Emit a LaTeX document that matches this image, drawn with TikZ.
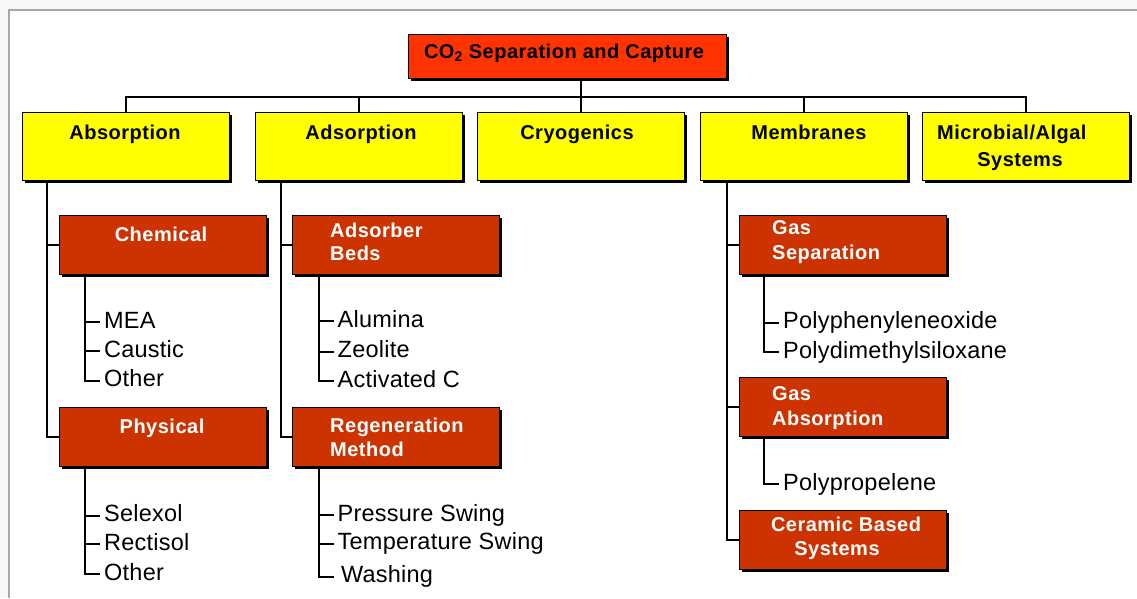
\documentclass[tikz,border=0pt]{standalone}
\usepackage{fontspec}
\setmainfont{Liberation Sans}
\newfontfamily\boxfont[LetterSpace=2.5]{Liberation Sans}
\newfontfamily\itemfont[LetterSpace=1]{Liberation Sans}
\usetikzlibrary{shadows}
\definecolor{rootred}{HTML}{FF3300}
\definecolor{subred}{HTML}{CC3300}
\definecolor{yboxc}{HTML}{FFFF00}
\definecolor{pagebg}{HTML}{F7F7F7}
\definecolor{frameline}{HTML}{A8A8A8}
\begin{document}
\begin{tikzpicture}[x=1pt,y=-1pt,
 boxbase/.style={draw=black, line width=1pt, inner sep=0pt,
   general shadow={fill=black, shadow xshift=2.8pt, shadow yshift=-2.8pt}},
 rootbox/.style={boxbase, fill=rootred, minimum width=318pt, minimum height=43.5pt},
 topbox/.style={boxbase, fill=yboxc, minimum width=207pt, minimum height=68pt},
 subbox/.style={boxbase, fill=subred, minimum width=207pt, minimum height=59pt},
 boxtxt/.style={font=\boxfont\fontsize{20}{24}\selectfont\bfseries, inner sep=0pt},
 subtxt/.style={boxtxt, text=white},
 item/.style={font=\itemfont\fontsize{23.5}{28}\selectfont, inner xsep=4pt, inner ysep=0pt,
   text height=12pt, text depth=0pt, anchor=base west},
 conn/.style={draw=black, line width=2pt}]
\useasboundingbox (0,0) rectangle (1137,598);
% page
\fill[pagebg] (0,0) rectangle (1137,598);
\fill[white] (9,10) rectangle (1137,598);
\draw[frameline, line width=1.2pt] (9,598) -- (9,10) -- (1137,10);

% boxes
\node[rootbox] (root) at (567,56.3) {};
\node[topbox] (absorp) at (126,146.5) {};
\node[topbox] (adsorp) at (358.5,146.5) {};
\node[topbox] (cryo) at (581,146.5) {};
\node[topbox] (memb) at (803.5,146.5) {};
\node[topbox] (micro) at (1026,146.5) {};

\node[subbox] (chem) at (163,244.5) {};
\node[subbox] (phys) at (163,437) {};
\node[subbox] (beds) at (395.5,244.5) {};
\node[subbox] (regen) at (395.5,437) {};
\node[subbox] (gsep) at (842.5,244.5) {};
\node[subbox] (gabs) at (842.5,407) {};
\node[subbox] (ceram) at (842.5,539.5) {};

% box texts
\node[boxtxt, anchor=base] (rootT) at (564,58) {CO\textsubscript{2} Separation and Capture};
\node[boxtxt, anchor=base] (absorpT) at (125,139) {Absorption};
\node[boxtxt, anchor=base] (adsorpT) at (361,139) {Adsorption};
\node[boxtxt, anchor=base] (cryoT) at (577,139) {Cryogenics};
\node[boxtxt, anchor=base] (membT) at (809,139) {Membranes};
\node[boxtxt, anchor=base west] (microT) at (937,139.3) {Microbial/Algal};
\node[boxtxt, anchor=base] (microT2) at (1020,166.7) {Systems};

\node[subtxt, anchor=base] (chemT) at (161,241) {Chemical};
\node[subtxt, anchor=base] (physT) at (162,433) {Physical};
\node[subtxt, anchor=base west] (bedsT) at (330,237) {Adsorber};
\node[subtxt, anchor=base west] (bedsT2) at (330,260) {Beds};
\node[subtxt, anchor=base west] (regenT) at (330,432) {Regeneration};
\node[subtxt, anchor=base west] (regenT2) at (330,456.5) {Method};
\node[subtxt, anchor=base west] (gsepT) at (772,234.3) {Gas};
\node[subtxt, anchor=base west] (gsepT2) at (772,259.3) {Separation};
\node[subtxt, anchor=base west] (gabsT) at (772,400.7) {Gas};
\node[subtxt, anchor=base west] (gabsT2) at (772,425.7) {Absorption};
\node[subtxt, anchor=base] (ceramT) at (846,531.7) {Ceramic Based};
\node[subtxt, anchor=base] (ceramT2) at (837,555) {Systems};

% items
\node[item] (mea) at (100,328.3) {MEA};
\node[item] (caus) at (100,357) {Caustic};
\node[item] (oth1) at (100,386.7) {Other};
\node[item] (selex) at (100,521.7) {Selexol};
\node[item] (rect) at (100,550) {Rectisol};
\node[item] (oth2) at (100,580) {Other};
\node[item] (alum) at (333.5,327.3) {Alumina};
\node[item] (zeol) at (333.5,357.8) {Zeolite};
\node[item] (actc) at (333.5,387.3) {Activated C};
\node[item] (press) at (333.5,521) {Pressure Swing};
\node[item] (temp) at (333.5,549.8) {Temperature Swing};
\node[item] (wash) at (333.5,582.7) {\hspace{3.3pt}Washing};
\node[item] (ppo) at (779,328.5) {Polyphenyleneoxide};
\node[item] (pdms) at (779,358) {Polydimethylsiloxane};
\node[item] (ppl) at (779,490.3) {Polypropelene};

% top level connectors
\coordinate (bus) at (581,96.7);
\draw[conn] (root.south -| bus) -- (bus);
\draw[conn] (absorp.north) |- (bus) -| (micro.north);
\draw[conn] (adsorp.north) -- (adsorp.north |- bus);
\draw[conn] (cryo.north) -- (cryo.north |- bus);
\draw[conn] (memb.north) -- (memb.north |- bus);

% trunks to sub boxes
\coordinate (absTr) at (47,180.5);
\draw[conn] (absTr) |- (phys.west);
\draw[conn] (absTr |- chem.west) -- (chem.west);
\coordinate (adsTr) at (281,180.5);
\draw[conn] (adsTr) |- (regen.west);
\draw[conn] (adsTr |- beds.west) -- (beds.west);
\coordinate (memTr) at (726.5,180.5);
\draw[conn] (memTr) |- (ceram.west);
\draw[conn] (memTr |- gsep.west) -- (gsep.west);
\draw[conn] (memTr |- gabs.west) -- (gabs.west);

% item connectors
\coordinate (chemTr) at (84.5,274);
\draw[conn] (chemTr) |- (oth1.west) (chemTr |- mea.west) -- (mea.west) (chemTr |- caus.west) -- (caus.west);
\coordinate (physTr) at (84.5,466.5);
\draw[conn] (physTr) |- (oth2.west) (physTr |- selex.west) -- (selex.west) (physTr |- rect.west) -- (rect.west);
\coordinate (bedsTr) at (319,274);
\draw[conn] (bedsTr) |- (actc.west) (bedsTr |- alum.west) -- (alum.west) (bedsTr |- zeol.west) -- (zeol.west);
\coordinate (regenTr) at (319,466.5);
\draw[conn] (regenTr) |- (wash.west) (regenTr |- press.west) -- (press.west) (regenTr |- temp.west) -- (temp.west);
\coordinate (gsepTr) at (763.5,274);
\draw[conn] (gsepTr) |- (pdms.west) (gsepTr |- ppo.west) -- (ppo.west);
\coordinate (gabsTr) at (763.5,437);
\draw[conn] (gabsTr) |- (ppl.west);
\end{tikzpicture}
\end{document}
